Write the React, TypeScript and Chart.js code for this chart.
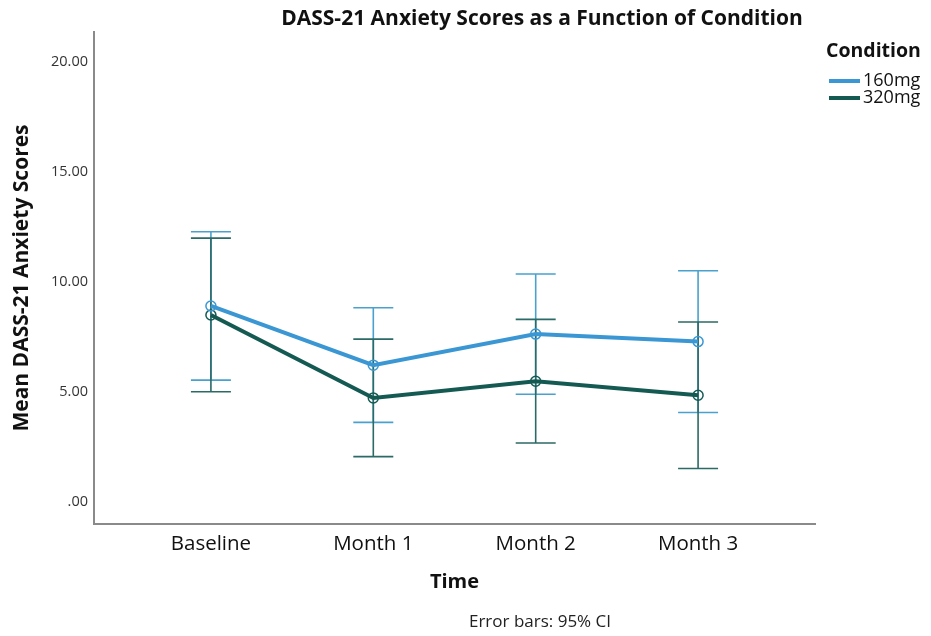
import { useEffect, useRef } from 'react';
import { Chart, registerables } from 'chart.js';

Chart.register(...registerables);

// Time points on the x axis
const timePoints = ['Baseline', 'Month 1', 'Month 2', 'Month 3'];
const conditions = ['160mg', '320mg'];

// Mean DASS-21 anxiety scores and 95% CI limits per condition
const mean160 = [8.89, 6.2, 7.61, 7.27];
const lower160 = [5.52, 3.6, 4.88, 4.05];
const upper160 = [12.26, 8.81, 10.34, 10.49];

const mean320 = [8.48, 4.71, 5.47, 4.83];
const lower320 = [4.99, 2.04, 2.66, 1.5];
const upper320 = [11.97, 7.38, 8.28, 8.16];

const yTickValues = [0, 5, 10, 15, 20];

const chartTitle = 'DASS-21 Anxiety Scores as a Function of Condition';
const xTitle = 'Time';
const yTitle = 'Mean DASS-21 Anxiety Scores';
const legendTitle = 'Condition';
const footnote = 'Error bars: 95% CI';

const lineColors = ['#3a97d3', '#145a53'];
const barColors = ['#4aa1ce', '#2b6a66'];

const FONT = "'Open Sans', 'DejaVu Sans', sans-serif";

const means = [mean160, mean320];
const lowers = [lower160, lower320];
const uppers = [upper160, upper320];

// Vertical CI whiskers with caps, drawn beneath the mean lines
const errorBarPlugin = {
  id: 'errorBars',
  beforeDatasetsDraw(chart: any) {
    const { ctx, scales } = chart;
    const xs = scales.x;
    const ys = scales.y;
    const cap = 20;
    ctx.save();
    ctx.lineWidth = 1.6;
    means.forEach((_, si) => {
      ctx.strokeStyle = barColors[si];
      timePoints.forEach((_, i) => {
        const px = xs.getPixelForValue(i);
        const yLo = ys.getPixelForValue(lowers[si][i]);
        const yHi = ys.getPixelForValue(uppers[si][i]);
        ctx.beginPath();
        ctx.moveTo(px, yHi);
        ctx.lineTo(px, yLo);
        ctx.moveTo(px - cap, yHi);
        ctx.lineTo(px + cap, yHi);
        ctx.moveTo(px - cap, yLo);
        ctx.lineTo(px + cap, yLo);
        ctx.stroke();
      });
    });
    ctx.restore();
  },
};

// Title, legend block and footnote
const textPlugin = {
  id: 'chartTexts',
  afterDraw(chart: any) {
    const { ctx } = chart;
    ctx.save();
    ctx.fillStyle = '#111';
    ctx.textBaseline = 'middle';

    ctx.textAlign = 'center';
    ctx.font = `bold 21px ${FONT}`;
    ctx.fillText(chartTitle, 542, 19);

    ctx.font = `17px ${FONT}`;
    ctx.fillStyle = '#222';
    ctx.fillText(footnote, 540, 622);

    ctx.textAlign = 'left';
    ctx.fillStyle = '#111';
    ctx.font = `bold 19.5px ${FONT}`;
    ctx.fillText(legendTitle, 826, 51);

    ctx.font = `18px ${FONT}`;
    conditions.forEach((label, i) => {
      const y = 81 + i * 17;
      ctx.strokeStyle = lineColors[i];
      ctx.lineWidth = 4;
      ctx.beginPath();
      ctx.moveTo(829, y);
      ctx.lineTo(860, y);
      ctx.stroke();
      ctx.fillStyle = '#111';
      ctx.fillText(label, 863, y);
    });
    ctx.restore();
  },
};

export default function App() {
  const canvasRef = useRef<HTMLCanvasElement>(null);

  useEffect(() => {
    const canvas = canvasRef.current;
    if (!canvas) return;

    const chart = new Chart(canvas, {
      type: 'line',
      data: {
        datasets: conditions.map((label, si) => ({
          label,
          data: means[si].map((v, i) => ({ x: i, y: v })),
          borderColor: lineColors[si],
          borderWidth: 4,
          pointRadius: 5,
          pointBorderWidth: 1.5,
          pointBorderColor: lineColors[si],
          pointBackgroundColor: 'rgba(255,255,255,0)',
          tension: 0,
        })),
      },
      options: {
        animation: false,
        responsive: true,
        maintainAspectRatio: false,
        layout: { padding: { top: 32, right: 116, left: 0, bottom: 0 } },
        plugins: {
          legend: { display: false },
          title: { display: false },
          tooltip: { enabled: false },
        },
        scales: {
          x: {
            type: 'linear',
            min: -0.72,
            max: 3.72,
            grid: { display: false, drawTicks: false },
            border: { display: true, color: '#8a8a8a', width: 2 },
            afterFit(scale: any) {
              scale.height = 112;
            },
            afterBuildTicks(scale: any) {
              scale.ticks = timePoints.map((_, i) => ({ value: i }));
            },
            ticks: {
              padding: 8,
              color: '#111',
              font: { family: FONT, size: 20.5 },
              callback: (v: any) => timePoints[Number(v)] ?? '',
              maxRotation: 0,
              autoSkip: false,
            },
            title: {
              display: true,
              text: xTitle,
              color: '#111',
              font: { family: FONT, size: 20, weight: 'bold' },
              padding: { top: 0, bottom: 42 },
            },
          },
          y: {
            type: 'linear',
            min: -1.02,
            max: 21.34,
            grid: { display: false, drawTicks: false },
            border: { display: true, color: '#8a8a8a', width: 2 },
            afterFit(scale: any) {
              scale.width = 94;
            },
            afterBuildTicks(scale: any) {
              scale.ticks = yTickValues.map((v) => ({ value: v }));
            },
            ticks: {
              padding: 6,
              color: '#333',
              font: { family: FONT, size: 14.5 },
              callback: (v: any) => (Number(v) === 0 ? '.00' : Number(v).toFixed(2)),
            },
            title: {
              display: true,
              text: yTitle,
              color: '#111',
              font: { family: FONT, size: 21, weight: 'bold' },
              padding: { top: 9, bottom: 0 },
            },
          },
        },
      },
      plugins: [errorBarPlugin, textPlugin],
    });

    return () => chart.destroy();
  }, []);

  return (
    <div style={{ position: 'fixed', left: 0, top: 0, width: 931, height: 636, background: '#fff' }}>
      <canvas ref={canvasRef} />
    </div>
  );
}
